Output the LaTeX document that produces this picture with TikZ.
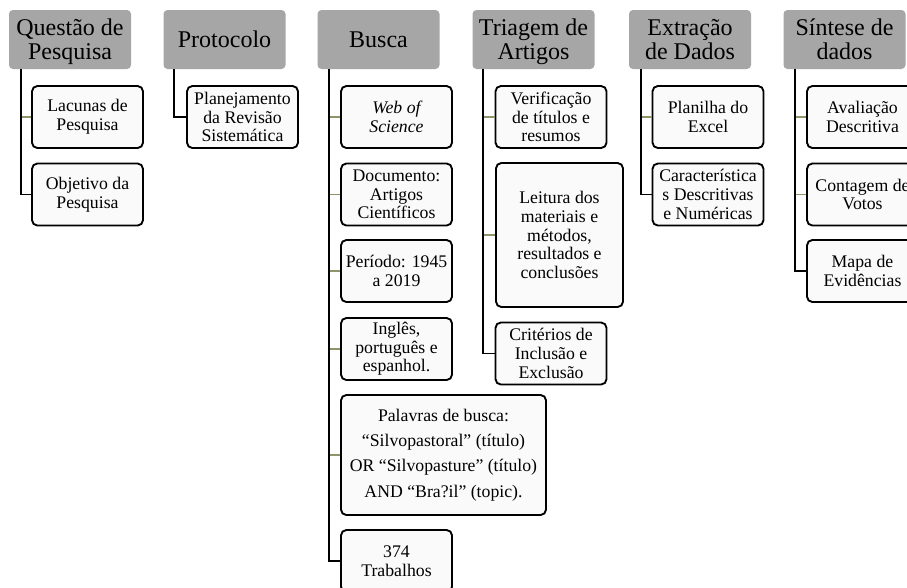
\documentclass[tikz,border=0pt]{standalone}
\usepackage{fontspec}
\setmainfont{Liberation Serif}
\definecolor{branch}{RGB}{140,150,105}

\begin{document}
\begin{tikzpicture}[x=0.75pt, y=-0.75pt,
    head/.style={fill=black!35, rounded corners=3pt, align=center, inner sep=1pt,
                 minimum width=91.5pt, minimum height=44.25pt, text depth=0pt, text height=11.5pt,
                 font=\fontsize{18}{18}\selectfont},
    headtwo/.style={head, text height=30pt},
    item/.style={draw, fill=black!2, line width=1.4pt, rounded corners=4pt, align=center, inner sep=1pt,
                 minimum width=83.25pt, minimum height=46.5pt, font=\fontsize{13.3}{14}\selectfont},
    trunk/.style={line width=1.4pt},
    twig/.style={branch, line width=1pt}]
        \clip (0,0) rectangle (907,587);
        \useasboundingbox (0,0) rectangle (907,587);
        \fill[white] (0,0) rectangle (907,587);

        \node[headtwo] (q) at (70,39.5) {Questão de\\Pesquisa};
        \node[head] (p) at (224.5,39.5) {Protocolo};
        \node[head] (b) at (378.5,39.5) {Busca};
        \node[headtwo] (t) at (533.5,39.5) {Triagem de\\Artigos};
        \node[headtwo] (e) at (690,39.5) {Extração\\de Dados};
        \node[headtwo] (s) at (844.5,39.5) {Síntese de\\dados};

        \coordinate (qt) at (21,69);
        \coordinate (pt) at (174,69);
        \coordinate (bt) at (329,69);
        \coordinate (tt) at (483,69);
        \coordinate (et) at (641,69);
        \coordinate (st) at (795,69);

        \node[item] (q1) at (87.5,117) {Lacunas de\\Pesquisa};
        \node[item] (q2) at (87.5,194.5) {Objetivo da\\Pesquisa};

        \node[item] (p1) at (242.5,117) {Planejamento\\da Revisão\\Sistemática};

        \node[item] (b1) at (396.5,117) {\itshape Web of\\\itshape Science};
        \node[item] (b2) at (396.5,194.5) {Documento:\\Artigos\\Científicos};
        \node[item] (b3) at (396.5,271) {Período: 1945\\a 2019};
        \node[item] (b4) at (396.5,349) {Inglês,\\português e\\espanhol.};
        \node[item, minimum width=153.75pt, minimum height=90pt, font=\fontsize{13.3}{19}\selectfont] (b5) at (443.5,455)
            {Palavras de busca:\\“Silvopastoral” (título)\\OR “Silvopasture” (título)\\AND “Bra?il” (topic).};
        \node[item] (b6) at (396.5,561) {374\\Trabalhos};

        \node[item] (t1) at (551,117) {Verificação\\de títulos e\\resumos};
        \node[item, minimum width=95.25pt, minimum height=108pt] (t2) at (559.5,235)
            {Leitura dos\\materiais e\\métodos,\\resultados e\\conclusões};
        \node[item] (t3) at (551,353.5) {Critérios de\\Inclusão e\\Exclusão};

        \node[item] (e1) at (708,117) {Planilha do\\Excel};
        \node[item] (e2) at (708,194.5) {Característica\\s Descritivas\\e Numéricas};

        \node[item] (s1) at (862.5,117) {Avaliação\\Descritiva};
        \node[item] (s2) at (862.5,194.5) {Contagem de\\Votos};
        \node[item] (s3) at (862.5,271) {Mapa de\\Evidências};

        \draw[twig] (qt |- q1.west) -- (q1.west);
        \draw[trunk] (qt) |- (q2.west);

        \draw[trunk] (pt) |- (p1.west);

        \foreach \n in {b1,b2,b3,b4,b5}
            \draw[twig] (bt |- \n.west) -- (\n.west);
        \draw[trunk] (bt) |- (b6.west);

        \foreach \n in {t1,t2}
            \draw[twig] (tt |- \n.west) -- (\n.west);
        \draw[trunk] (tt) |- (t3.west);

        \draw[twig] (et |- e1.west) -- (e1.west);
        \draw[trunk] (et) |- (e2.west);

        \foreach \n in {s1,s2}
            \draw[twig] (st |- \n.west) -- (\n.west);
        \draw[trunk] (st) |- (s3.west);
    \end{tikzpicture}
\end{document}
